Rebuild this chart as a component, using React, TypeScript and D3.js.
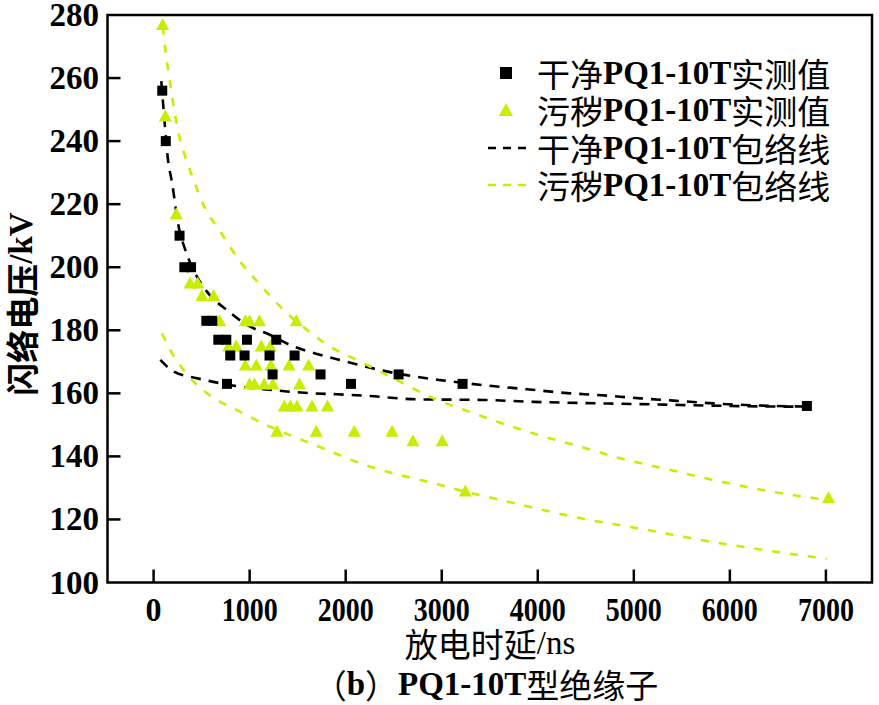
import React from "react";
import * as d3 from "d3";

// ---------- data ----------
const xTicks = [0, 1000, 2000, 3000, 4000, 5000, 6000, 7000];
const yTicks = [100, 120, 140, 160, 180, 200, 220, 240, 260, 280];

// 干净 measured (x ns, y kV)
const cleanPoints: [number, number][] = [
  [90, 256], [127, 240], [270, 210], [320, 200], [390, 200],
  [549, 183], [611, 183], [674, 177], [757, 177], [972, 177], [1277, 177],
  [798, 172], [947, 172], [1207, 172], [1468, 172],
  [1239, 166], [1738, 166], [764, 163], [2055, 163],
  [2551, 166], [3217, 163], [6802, 156],
];

// 污秽 measured
const dirtyPoints: [number, number][] = [
  [94, 277], [122, 248], [236, 217], [380, 195], [460, 195],
  [504, 191], [625, 191], [687, 183], [955, 183], [999, 183], [1103, 183], [1486, 183],
  [781, 175], [861, 175], [1121, 175], [1215, 175],
  [955, 169], [1069, 169], [1222, 169], [1410, 169], [1614, 169],
  [999, 163], [1051, 163], [1152, 163], [1243, 163], [1520, 163],
  [1361, 156], [1423, 156], [1493, 156], [1649, 156], [1811, 156],
  [1284, 148], [1694, 148], [2089, 148], [2482, 148],
  [2700, 145], [3005, 145], [3245, 129], [7027, 127],
];

const cleanUpper: [number, number][] = [
  [80, 259], [104, 250], [150, 234], [191, 227], [260, 213], [330, 205.5],
  [452, 197], [590, 191], [764, 186.4], [972, 181.7], [1215, 178.5], [1423, 175.3],
  [1701, 172.5], [2013, 170], [2326, 167.6], [2568, 166.1], [2984, 164.2],
  [3435, 162.6], [3887, 161.3], [4338, 160], [4616, 159.5], [5067, 158.4],
  [5413, 157.7], [5830, 156.8], [6246, 156.2], [6802, 155.8],
];
const cleanLower: [number, number][] = [
  [70, 170.6], [208, 166.9], [452, 164.8], [694, 163.2], [903, 162.1],
  [1145, 161.3], [1389, 160.6], [1666, 160], [1909, 159.7], [2222, 159.2],
  [2742, 158.1], [3435, 157.9], [3956, 157.3], [4511, 156.9], [5032, 156.6],
  [5483, 156.3], [6004, 156], [6524, 155.8], [6802, 155.8],
];
const dirtyUpper: [number, number][] = [
  [94, 276.3], [122, 268.9], [156, 261.5], [198, 253], [260, 242.5], [330, 235],
  [416, 227.7], [520, 219.7], [694, 211.3], [903, 201.7], [1111, 194.4],
  [1319, 187.5], [1597, 180.1], [1839, 174.8], [2117, 170.6], [2464, 165.3],
  [2915, 158.4], [3331, 153.7], [3713, 149.6], [4130, 145.7], [4442, 143.1],
  [4858, 139.4], [5309, 136.2], [5830, 132.5], [6385, 129.1], [6940, 126.5],
];
const dirtyLower: [number, number][] = [
  [87, 179], [174, 173.7], [312, 167.4], [556, 160], [868, 154.7], [1215, 149.4],
  [1562, 145], [1770, 142.5], [2152, 137.8], [2499, 134.6], [2915, 131.5],
  [3245, 128.8], [3539, 126.7], [4546, 119.8], [5136, 116.7], [5657, 113.7],
  [6246, 110.8], [7010, 107.5],
];

const legendLabels = [
  "干净PQ1-10T实测值",
  "污秽PQ1-10T实测值",
  "干净PQ1-10T包络线",
  "污秽PQ1-10T包络线",
];
const xTitle = "放电时延/ns";
const yTitle = "闪络电压/kV";
const caption = "（b）PQ1-10T型绝缘子";

// ---------- style ----------
const W = 879;
const H = 705;
const L = 107.5, R = 872, T = 15, B = 582.5;
const YELLOW = "#c6ee00";
const SERIF = "'Liberation Serif', 'Times New Roman', serif";
const CJK = "'Noto Sans CJK SC', sans-serif";

const xScale = d3.scaleLinear().domain([-480, 7480]).range([L, R]);
const yScale = d3.scaleLinear().domain([100, 280]).range([B, T]);

const line = d3
  .line<[number, number]>()
  .x((d) => xScale(d[0]))
  .y((d) => yScale(d[1]))
  .curve(d3.curveMonotoneX);

const CJK_RE = /[\u3000-\u9fff\uff00-\uffef]+|[^\u3000-\u9fff\uff00-\uffef]+/g;

function MixedText({ s, bold, cjkWeight = "normal" }: { s: string; bold: boolean; cjkWeight?: string }) {
  const parts = s.match(CJK_RE) || [];
  return (
    <>
      {parts.map((p, i) => {
        const isCjk = /[\u3000-\u9fff\uff00-\uffef]/.test(p);
        return (
          <tspan
            key={i}
            fontFamily={isCjk ? CJK : SERIF}
            fontWeight={isCjk ? cjkWeight : bold ? "bold" : "normal"}
          >
            {p}
          </tspan>
        );
      })}
    </>
  );
}

const tri = (w: number, h: number) => `M0,${-h / 2 - 1}L${w / 2},${h / 2}L${-w / 2},${h / 2}Z`;

export default function App() {
  const legendY = [73, 110, 148, 185];
  return (
    <svg
      width={W}
      height={H}
      viewBox={`0 0 ${W} ${H}`}
      style={{ position: "absolute", left: 0, top: 0, background: "#fff" }}
    >
      <rect x={0} y={0} width={W} height={H} fill="#fff" />

      {/* envelopes */}
      <path d={line(cleanUpper) || ""} fill="none" stroke="#000" strokeWidth={2.6} strokeDasharray="10,8" />
      <path d={line(cleanLower) || ""} fill="none" stroke="#000" strokeWidth={2.6} strokeDasharray="10,8" />
      <path d={line(dirtyUpper) || ""} fill="none" stroke={YELLOW} strokeWidth={2.6} strokeDasharray="8,10" />
      <path d={line(dirtyLower) || ""} fill="none" stroke={YELLOW} strokeWidth={2.6} strokeDasharray="8,10" />

      {/* points */}
      {dirtyPoints.map((d, i) => (
        <path key={"t" + i} d={tri(13, 11)} transform={`translate(${xScale(d[0])},${yScale(d[1])})`} fill={YELLOW} />
      ))}
      {cleanPoints.map((d, i) => (
        <rect key={"s" + i} x={xScale(d[0]) - 5} y={yScale(d[1]) - 5} width={10} height={10} fill="#000" />
      ))}

      {/* frame */}
      <rect x={L} y={T} width={R - L} height={B - T} fill="none" stroke="#000" strokeWidth={2.5} />

      {/* y ticks */}
      {yTicks.map((t) => (
        <g key={"y" + t}>
          {t > 100 && t < 280 && (
            <line x1={L} x2={L + 13} y1={yScale(t)} y2={yScale(t)} stroke="#000" strokeWidth={2.5} />
          )}
          <text
            x={99}
            y={yScale(t)}
            textAnchor="end"
            dominantBaseline="central"
            fontFamily={SERIF}
            fontWeight="bold"
            fontSize={33}
          >
            {t}
          </text>
        </g>
      ))}

      {/* x ticks */}
      {xTicks.map((t) => {
        const s = String(t);
        return (
          <g key={"x" + t}>
            <line x1={xScale(t)} x2={xScale(t)} y1={B} y2={B - 13} stroke="#000" strokeWidth={2.5} />
            <text
              x={xScale(t)}
              y={621}
              textAnchor="middle"
              fontFamily={SERIF}
              fontWeight="bold"
              fontSize={33}
              textLength={s.length === 1 ? 16 : 56}
              lengthAdjust="spacingAndGlyphs"
            >
              {s}
            </text>
          </g>
        );
      })}

      {/* axis titles */}
      <text x={490} y={643} textAnchor="middle" dominantBaseline="central" fontSize={33}>
        <MixedText s={xTitle} bold={false} />
      </text>
      <text
        transform={`translate(21,304) rotate(-90)`}
        textAnchor="middle"
        dominantBaseline="central"
        fontSize={33}
      >
        <MixedText s={yTitle} bold={true} cjkWeight="bold" />
      </text>
      <text x={486} y={684} textAnchor="middle" dominantBaseline="central" fontSize={33}>
        <MixedText s={caption} bold={true} />
      </text>

      {/* legend */}
      <rect x={500} y={legendY[0] - 6} width={12} height={12} fill="#000" />
      <path d={tri(14, 12)} transform={`translate(506,${legendY[1]})`} fill={YELLOW} />
      <line x1={488} x2={530} y1={legendY[2]} y2={legendY[2]} stroke="#000" strokeWidth={2.6} strokeDasharray="8,7" />
      <line x1={488} x2={530} y1={legendY[3]} y2={legendY[3]} stroke={YELLOW} strokeWidth={2.6} strokeDasharray="8,7" />
      {legendLabels.map((lab, i) => (
        <text key={"l" + i} x={537} y={legendY[i]} dominantBaseline="central" fontSize={33}>
          <MixedText s={lab} bold={true} />
        </text>
      ))}
    </svg>
  );
}
